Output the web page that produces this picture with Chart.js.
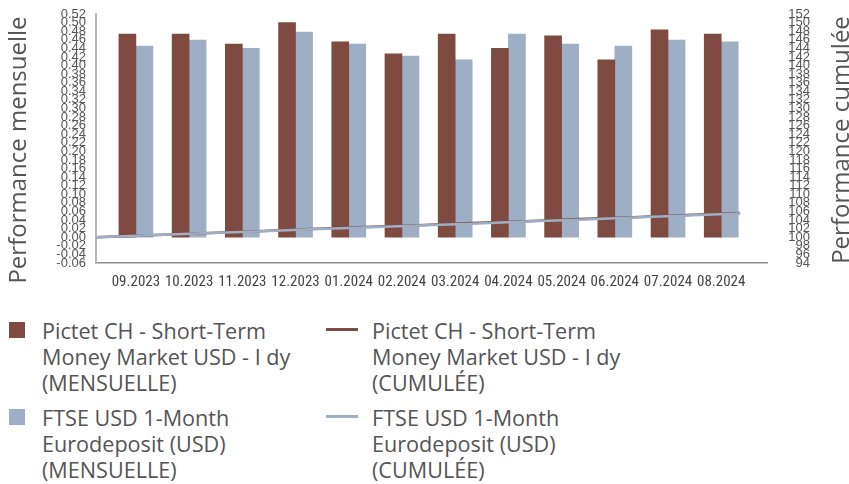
<!DOCTYPE html>
<html>
<head>
<meta charset="utf-8">
<script src="https://cdn.jsdelivr.net/npm/chart.js@4.4.1/dist/chart.umd.min.js"></script>
<style>
  html, body { margin: 0; padding: 0; background: #fff; }
  #wrap { position: relative; width: 849px; height: 484px; overflow: hidden; }
  #bars, #lines { position: absolute; left: 0; top: 0; }
  #lines { pointer-events: none; }
  .item { position: absolute; font-family: 'Open Sans', sans-serif; font-size: 21.6px; line-height: 26px; color: #555; }
  .item .txt { position: absolute; white-space: nowrap; }
  .item .box { position: absolute; }
</style>
</head>
<body>
<div id="wrap">
  <canvas id="bars" width="849" height="300"></canvas>
  <canvas id="lines" width="849" height="300"></canvas>
  <div id="legend"></div>
</div>
<script>
const categories = ['09.2023', '10.2023', '11.2023', '12.2023', '01.2024', '02.2024',
  '03.2024', '04.2024', '05.2024', '06.2024', '07.2024', '08.2024'];

// monthly performance (%)
const monthlyFund = [0.473, 0.473, 0.450, 0.500, 0.455, 0.427, 0.473, 0.440, 0.469, 0.413, 0.483, 0.473];
const monthlyIndex = [0.445, 0.459, 0.440, 0.478, 0.450, 0.422, 0.413, 0.473, 0.450, 0.445, 0.459, 0.455];

// cumulative performance (base 100), start point + one per month
const cumulFund = [100, 100.47, 100.95, 101.40, 101.91, 102.37, 102.81, 103.30, 103.75, 104.24, 104.67, 105.17, 105.66];
const cumulIndex = [100, 100.45, 100.91, 101.35, 101.84, 102.29, 102.72, 103.15, 103.64, 104.10, 104.57, 105.05, 105.53];

const leftTicks = [-0.06, -0.04, -0.02, 0.00, 0.02, 0.04, 0.06, 0.08, 0.10, 0.12, 0.14, 0.16, 0.18, 0.20, 0.22,
  0.24, 0.26, 0.28, 0.30, 0.32, 0.34, 0.36, 0.38, 0.40, 0.42, 0.44, 0.46, 0.48, 0.50, 0.52];
const rightTicks = [94, 96, 98, 100, 102, 104, 106, 108, 110, 112, 114, 116, 118, 120, 122,
  124, 126, 128, 130, 132, 134, 136, 138, 140, 142, 144, 146, 148, 150, 152];

const fundLabel = ['Pictet CH - Short-Term', 'Money Market USD - I dy'];
const indexLabel = ['FTSE USD 1-Month', 'Eurodeposit (USD)'];

const RED = '#7f4a40';
const BLUE = '#9eaec4';
const TICK_FONT = { family: "'Liberation Sans', Arial, sans-serif", size: 13 };
const XTICK_FONT = { family: "'Roboto Condensed', 'DejaVu Sans Condensed', sans-serif", size: 15 };

const toPoints = arr => arr.map((v, i) => ({ x: i, y: v }));

const axisTitles = {
  id: 'axisTitles',
  afterDraw(chart) {
    const ctx = chart.ctx;
    [['Performance mensuelle', 19, 150], ['Performance cumulée', 842, 140]].forEach(([t, x, y]) => {
      ctx.save();
      ctx.fillStyle = '#555';
      ctx.font = "24px 'Open Sans', sans-serif";
      ctx.textAlign = 'center';
      ctx.textBaseline = 'middle';
      ctx.translate(x, y);
      ctx.rotate(-Math.PI / 2);
      ctx.fillText(t, 0, 0);
      ctx.restore();
    });
  }
};

// keep the tick label overflow from pushing the plot area down
const noPad = s => { s.paddingTop = 0; s.paddingBottom = 0; };

// bars + all visible axes
const barChart = new Chart(document.getElementById('bars'), {
  type: 'bar',
  data: {
    datasets: [
      {
        label: fundLabel.concat('(MENSUELLE)'),
        data: toPoints(monthlyFund),
        backgroundColor: RED,
        barThickness: 17
      },
      {
        label: indexLabel.concat('(MENSUELLE)'),
        data: toPoints(monthlyIndex),
        backgroundColor: BLUE,
        barThickness: 17
      }
    ]
  },
  options: {
    responsive: false,
    animation: false,
    devicePixelRatio: 1,
    layout: { padding: { top: 14, left: 0, right: 0, bottom: 0 } },
    plugins: {
      legend: { display: false },
      tooltip: { enabled: false }
    },
    scales: {
      x: {
        type: 'linear',
        min: -0.75,
        max: 11.86,
        offset: false,
        grid: { display: false, drawTicks: false },
        border: { display: true, color: '#8f8f8f', width: 1.5 },
        afterBuildTicks: s => { s.ticks = categories.map((c, i) => ({ value: i })); },
        afterFit: s => { s.height = 37; },
        ticks: {
          autoSkip: false,
          maxRotation: 0,
          padding: 10,
          color: '#444',
          font: XTICK_FONT,
          callback: v => categories[v]
        }
      },
      y: {
        position: 'left',
        min: -0.06,
        max: 0.52,
        grid: { display: false, drawTicks: false },
        border: { display: true, color: '#b8b8b8', width: 2 },
        afterBuildTicks: s => { s.ticks = leftTicks.map(v => ({ value: v })); },
        afterFit: s => { s.width = 96; noPad(s); },
        ticks: {
          autoSkip: false,
          padding: 10,
          color: '#555',
          font: TICK_FONT,
          callback: v => Number(v).toFixed(2)
        }
      },
      y2: {
        position: 'right',
        min: 94,
        max: 152,
        grid: { display: false, drawTicks: false },
        border: { display: false },
        afterBuildTicks: s => { s.ticks = rightTicks.map(v => ({ value: v })); },
        afterFit: s => { s.width = 82; noPad(s); },
        ticks: {
          autoSkip: false,
          mirror: true,
          padding: 43,
          color: '#555',
          font: TICK_FONT
        }
      }
    }
  },
  plugins: [axisTitles]
});

// cumulative lines on an overlay with the same plot area
const lineChart = new Chart(document.getElementById('lines'), {
  type: 'line',
  data: {
    datasets: [
      {
        label: fundLabel.concat('(CUMULÉE)'),
        data: toPoints(cumulFund),
        borderColor: RED,
        borderWidth: 2.5,
        pointRadius: 0,
        order: 1
      },
      {
        label: indexLabel.concat('(CUMULÉE)'),
        data: toPoints(cumulIndex),
        borderColor: BLUE,
        borderWidth: 2.5,
        pointRadius: 0,
        order: 0
      }
    ]
  },
  options: {
    responsive: false,
    animation: false,
    devicePixelRatio: 1,
    layout: { padding: { top: 14, left: 96, right: 82, bottom: 37 } },
    plugins: {
      legend: { display: false },
      tooltip: { enabled: false }
    },
    scales: {
      x: { type: 'linear', display: false, offset: false, min: 0, max: 12.5 },
      y: { type: 'linear', display: false, min: 94, max: 152 }
    }
  }
});

// HTML legend, 2 columns
const legend = document.getElementById('legend');
const entries = [
  [barChart.data.datasets[0], 'bar', { left: 9, top: 318 }],
  [lineChart.data.datasets[0], 'line', { left: 326, top: 318 }],
  [barChart.data.datasets[1], 'bar', { left: 9, top: 405 }],
  [lineChart.data.datasets[1], 'line', { left: 326, top: 405 }]
];
entries.forEach(([ds, kind, slot]) => {
  const item = document.createElement('div');
  item.className = 'item';
  item.style.left = slot.left + 'px';
  item.style.top = slot.top + 'px';
  const box = document.createElement('div');
  box.className = 'box';
  if (kind === 'line') {
    box.style.cssText = `left:0;top:10px;width:32px;height:3px;background:${ds.borderColor}`;
  } else {
    box.style.cssText = `left:0;top:4px;width:16px;height:16px;background:${ds.backgroundColor}`;
  }
  const txt = document.createElement('div');
  txt.className = 'txt';
  txt.style.left = (kind === 'line' ? 46 : 33) + 'px';
  txt.innerHTML = ds.label.join('<br>');
  item.appendChild(box);
  item.appendChild(txt);
  legend.appendChild(item);
});
</script>
</body>
</html>
